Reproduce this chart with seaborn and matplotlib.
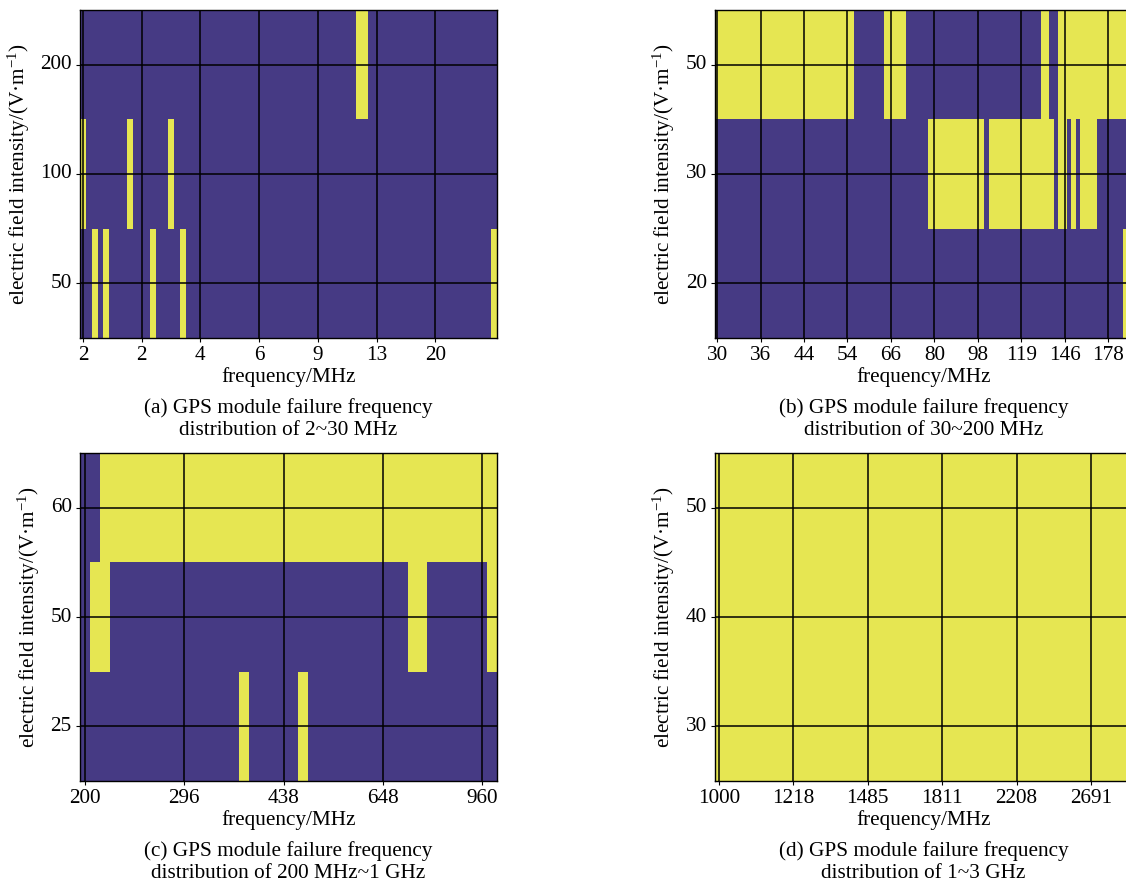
import numpy as np
import pandas as pd
import matplotlib
matplotlib.use('Agg')
import matplotlib.pyplot as plt
from matplotlib.colors import ListedColormap
import seaborn as sns

# panel (a): 2~30 MHz, yellow runs (first col, last col) per row, top row first
a_levels = ['200', '100', '50']
a_ncols = 71
a_yellow = [[(47, 48)],
            [(0, 0), (8, 8), (15, 15)],
            [(2, 2), (4, 4), (12, 12), (17, 17), (70, 70)]]
a_tick_idx = [0, 10, 20, 30, 40, 50, 60]
a_tick_lab = ['2', '2', '4', '6', '9', '13', '20']

# panel (b): 30~200 MHz
b_levels = ['50', '30', '20']
b_ncols = 96
b_yellow = [[(0, 31), (39, 43), (75, 76), (79, 95)],
            [(49, 61), (63, 77), (79, 80), (82, 82), (84, 87)],
            [(94, 95)]]
b_tick_idx = [0, 10, 20, 30, 40, 50, 60, 70, 80, 90]
b_tick_lab = ['30', '36', '44', '54', '66', '80', '98', '119', '146', '178']

# panel (c): 200 MHz~1 GHz
c_levels = ['60', '50', '25']
c_ncols = 42
c_yellow = [[(2, 41)],
            [(1, 2), (33, 34), (41, 41)],
            [(16, 16), (22, 22)]]
c_tick_idx = [0, 10, 20, 30, 40]
c_tick_lab = ['200', '296', '438', '648', '960']

# panel (d): 1~3 GHz
d_levels = ['50', '40', '30']
d_ncols = 56
d_yellow = [[(0, 55)], [(0, 55)], [(0, 55)]]
d_tick_idx = [0, 10, 20, 30, 40, 50]
d_tick_lab = ['1000', '1218', '1485', '1811', '2208', '2691']

captions = ['(a) GPS module failure frequency\ndistribution of 2~30 MHz',
            '(b) GPS module failure frequency\ndistribution of 30~200 MHz',
            '(c) GPS module failure frequency\ndistribution of 200 MHz~1 GHz',
            '(d) GPS module failure frequency\ndistribution of 1~3 GHz']

purple = '#463A84'
yellow = '#E6E652'


def build(levels, ncols, runs):
    m = np.zeros((len(levels), ncols), dtype=int)
    for i, row in enumerate(runs):
        for s, e in row:
            m[i, s:e + 1] = 1
    return pd.DataFrame(m, index=levels)


plt.rcParams['font.family'] = ['Liberation Serif', 'DejaVu Serif']
plt.rcParams['mathtext.fontset'] = 'custom'
plt.rcParams['mathtext.rm'] = 'Liberation Serif'
plt.rcParams['mathtext.it'] = 'Liberation Serif:italic'

W, H = 1126, 883
fig = plt.figure(figsize=(W / 100, H / 100), dpi=100)

panels = [
    (a_levels, a_ncols, a_yellow, a_tick_idx, a_tick_lab),
    (b_levels, b_ncols, b_yellow, b_tick_idx, b_tick_lab),
    (c_levels, c_ncols, c_yellow, c_tick_idx, c_tick_lab),
    (d_levels, d_ncols, d_yellow, d_tick_idx, d_tick_lab),
]
# axes boxes in pixels: left, top
boxes = [(80, 10), (715, 10), (80, 453), (715, 453)]
aw, ah = 417, 328

cmap = ListedColormap([purple, yellow])
fs = 15.3

for (levels, ncols, runs, tidx, tlab), (x0, y0), cap in zip(panels, boxes, captions):
    ax = fig.add_axes([x0 / W, 1 - (y0 + ah) / H, aw / W, ah / H])
    df = build(levels, ncols, runs)
    sns.heatmap(df, ax=ax, cmap=cmap, vmin=0, vmax=1, cbar=False)
    ax.set_xticks([k + 0.5 for k in tidx])
    ax.set_xticklabels(tlab, rotation=0, fontsize=fs)
    ax.set_yticks([i + 0.5 for i in range(len(levels))])
    ax.set_yticklabels(levels, rotation=0, fontsize=fs)
    ax.tick_params(direction='out', length=3, width=0.8, pad=3,
                   bottom=True, left=True)
    ax.set_axisbelow(False)
    ax.grid(True, color='black', linewidth=1.1)
    for s in ax.spines.values():
        s.set_visible(True)
        s.set_color('black')
        s.set_linewidth(1.0)
    ax.set_xlabel('frequency/MHz', fontsize=fs, labelpad=1)
    ax.set_ylabel('electric field intensity/(V·m$^{-1}$)', fontsize=fs, labelpad=6)
    ax.text(0.5, -0.248, cap, transform=ax.transAxes, ha='center', va='center',
            fontsize=fs, linespacing=1.22)

fig.savefig('out.png', dpi=100)
